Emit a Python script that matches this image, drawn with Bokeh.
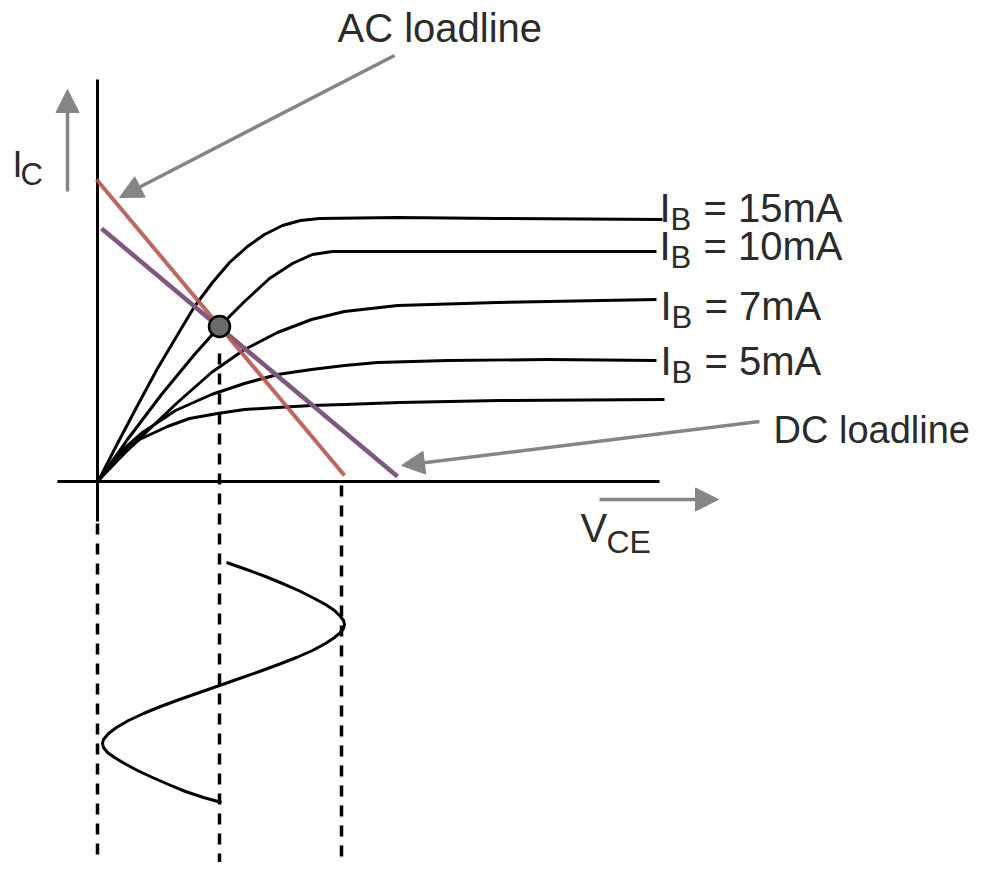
from bokeh.plotting import figure
from bokeh.models import Range1d, Arrow, NormalHead
from bokeh.core.properties import value
from bokeh.embed import file_html
from bokeh.resources import INLINE

# ---- data (diagram units: origin at the axes' crossing, 1 unit ~ 1 px) ----
ib15_x = [1, 20, 40, 60, 82, 97, 115, 132, 150, 167, 185, 203, 222, 300, 400, 565]
ib15_y = [1, 38, 76, 113, 150, 175, 199, 219, 235, 247, 256, 261, 263, 264, 263, 262]

ib10_x = [1, 30, 64, 97, 122, 147, 172, 195, 215, 235, 300, 559]
ib10_y = [1, 42, 87, 127, 155, 180, 203, 218, 227, 230, 230, 230]

ib7_x = [1, 20, 40, 80, 114, 147, 180, 214, 247, 300, 400, 559]
ib7_y = [1, 21, 41, 79, 109, 132, 149, 162, 170, 176, 179, 182]

ib5_x = [1, 20, 45, 78, 114, 147, 180, 214, 247, 280, 350, 450, 559]
ib5_y = [1, 27, 49, 71, 87, 98, 107, 112, 116, 119, 121, 122, 121]

ib3_x = [1, 15, 42, 70, 92, 120, 147, 180, 214, 247, 302, 402, 567]
ib3_y = [1, 20, 42, 55, 63, 68, 72, 74, 76, 77, 79, 81, 82]

ac_x = [-1, 247]
ac_y = [302, 6]
dc_x = [4, 300]
dc_y = [253, 5]

q_x = [122]
q_y = [155]

sine_x = [129, 149, 168, 185, 201, 215, 228, 237, 243, 246, 247, 246, 243, 237, 228,
          215, 199, 181, 162, 142, 122, 102, 82, 63, 46, 31, 19, 11, 6, 5, 6, 10,
          17, 27, 40, 55, 71, 88, 106, 124]
sine_y = [-81, -88, -95, -102, -109, -116, -123, -129, -135, -139, -143, -147, -151, -156, -162,
          -169, -176, -183, -190, -197, -204, -211, -218, -225, -232, -239, -246, -252, -258, -262, -266, -271,
          -276, -282, -289, -296, -303, -310, -316, -321]

dash_x = [0, 122, 244]
dash_top = [-42, 128, -4]
dash_bottom = [-390, -390, -390]

xaxis_x = [-40, 562]
yaxis_y = [402, -40]

ib_labels = ["15mA", "10mA", "7mA", "5mA"]
ib_label_x = [562, 562, 563, 563]
ib_label_y = [258, 220, 160, 105]

# arrows: (x_start, y_start, x_end, y_end)
arrows = {
    "ic": (-30, 290, -30, 392),
    "ac": (297, 426, 22, 284),
    "dc": (662, 60, 304, 16),
    "vce": (502, -18, 621, -18),
}

FONT = value("Liberation Sans")
TXT = "#2b2b2b"
GRAY = "#858585"
K_BASE = 0.38  # baseline correction (fraction of font size)

p = figure(width=978, height=862,
           x_range=Range1d(-97, 881), y_range=Range1d(-381, 481),
           output_backend="svg", toolbar_location=None,
           x_axis_location=None, y_axis_location=None,
           min_border=0, min_border_left=0, min_border_right=0,
           min_border_top=0, min_border_bottom=0)
p.grid.visible = False
p.outline_line_color = None
p.background_fill_color = "white"
p.border_fill_color = "white"

# axes
p.line(x=[0, 0], y=yaxis_y, line_color="black", line_width=3)
p.line(x=xaxis_x, y=[0, 0], line_color="black", line_width=3)

# dashed projections
p.segment(x0=dash_x, y0=dash_top, x1=dash_x, y1=dash_bottom,
          line_color="black", line_width=3.5, line_dash="11 9")

# characteristic curves
for cx, cy in [(ib15_x, ib15_y), (ib10_x, ib10_y), (ib7_x, ib7_y),
               (ib5_x, ib5_y), (ib3_x, ib3_y)]:
    p.line(x=cx, y=cy, line_color="black", line_width=3, line_join="round")

# load lines
p.line(x=dc_x, y=dc_y, line_color="#80577f", line_width=4.5)
p.line(x=ac_x, y=ac_y, line_color="#b5574f", line_width=4, line_alpha=0.9)

# Q point
p.scatter(x=q_x, y=q_y, size=21, marker="circle", fill_color="#6b6b6b",
          line_color="black", line_width=2.5)

# output waveform
p.line(x=sine_x, y=sine_y, line_color="black", line_width=3, line_join="round")

# arrows
for key, (xs, ys, xe, ye) in arrows.items():
    p.add_layout(Arrow(end=NormalHead(size=23, fill_color=GRAY, line_color=GRAY, line_width=1),
                       x_start=xs, y_start=ys, x_end=xe, y_end=ye,
                       line_color=GRAY, line_width=3.5))

# texts (y is the wanted baseline)
def txt(x, y, s, size):
    p.text(x=[x], y=[y + K_BASE * size], text=[s], text_font=FONT,
           text_font_size=f"{size}px", text_color=TXT,
           text_align="left", text_baseline="alphabetic")

txt(240, 438, "AC loadline", 40)
txt(676, 37, "DC loadline", 38)

txt(-85, 303, "I", 36)
txt(-77, 295, "C", 31)

txt(483, -62, "V", 40)
txt(509, -73, "CE", 32)

for lab, lx, ly in zip(ib_labels, ib_label_x, ib_label_y):
    txt(lx, ly, "I", 40)
    txt(lx + 11, ly - 8, "B", 31)
    txt(lx + 44, ly, "= " + lab, 40)

open("out.html", "w").write(file_html(p, INLINE))
